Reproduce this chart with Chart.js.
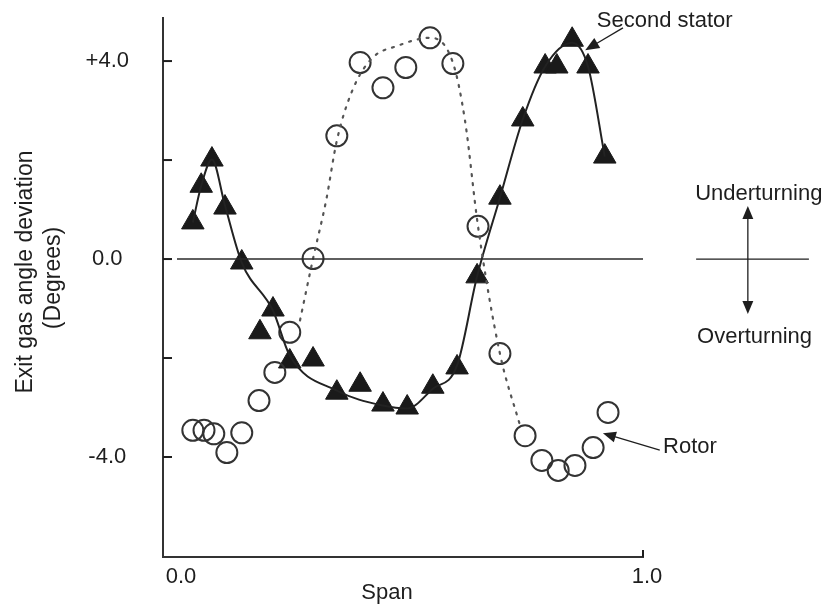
<!DOCTYPE html>
<html>
<head>
<meta charset="utf-8">
<script src="https://cdn.jsdelivr.net/npm/chart.js@4.4.0/dist/chart.umd.min.js"></script>
<style>
  html, body { margin: 0; padding: 0; background: #fff; }
  #wrap { width: 837px; height: 608px; position: relative; }
</style>
</head>
<body>
<div id="wrap"><canvas id="deviation"></canvas></div>
<script>
// second stator (filled triangles)
const statorSpan = [0.034, 0.052, 0.075, 0.103, 0.139, 0.178, 0.206, 0.242, 0.292, 0.343, 0.393, 0.442,
  0.494, 0.549, 0.601, 0.644, 0.693, 0.742, 0.790, 0.815, 0.848, 0.882, 0.918];
const statorDev = [0.74, 1.48, 2.01, 1.04, -0.07, -1.48, -1.02, -2.07, -2.03, -2.70, -2.54, -2.94,
  -3.00, -2.58, -2.19, -0.35, 1.24, 2.82, 3.89, 3.89, 4.43, 3.89, 2.07];

// rotor (open circles)
const rotorSpan = [0.034, 0.058, 0.079, 0.107, 0.139, 0.176, 0.210, 0.242, 0.292, 0.343, 0.393, 0.442,
  0.491, 0.543, 0.592, 0.646, 0.693, 0.747, 0.783, 0.818, 0.854, 0.893, 0.925];
const rotorDev = [-3.46, -3.46, -3.53, -3.91, -3.51, -2.86, -2.29, -1.48, 0.01, 2.49, 3.97, 3.46,
  3.87, 4.47, 3.95, 0.66, -1.91, -3.57, -4.07, -4.27, -4.17, -3.81, -3.10];

// faired curves drawn through the points
const statorFitSpan = [0.034, 0.052, 0.075, 0.103, 0.139, 0.206, 0.242, 0.343, 0.442, 0.494, 0.549, 0.601,
  0.644, 0.693, 0.742, 0.790, 0.848, 0.882, 0.918];
const statorFitDev = [0.74, 1.48, 2.01, 1.08, -0.07, -1.04, -1.95, -2.66, -2.96, -3.02, -2.62, -2.15,
  -0.35, 1.24, 2.82, 3.89, 4.37, 3.89, 2.07];
const rotorFitSpan = [0.264, 0.292, 0.320, 0.343, 0.376, 0.418, 0.474, 0.543, 0.592, 0.618, 0.646, 0.693, 0.736];
const rotorFitDev = [-1.24, 0.01, 1.18, 2.39, 3.40, 4.05, 4.31, 4.47, 3.97, 2.80, 0.66, -1.91, -3.36];

const zeroSpan = [0, 1];
const zeroDev = [0, 0];

const xTicks = [0, 1];
const yTicks = [-4, -2, 0, 2, 4];
const yLabelled = [-4, 0, 4];

const ink = "#1e1e1e";
const face = "'Liberation Sans', Arial, sans-serif";

function pts(xs, ys) {
  return xs.map((x, i) => ({ x: x, y: ys[i] }));
}

function arrow(ctx, x1, y1, x2, y2, head) {
  const a = Math.atan2(y2 - y1, x2 - x1);
  const c = Math.cos(a), s = Math.sin(a);
  ctx.beginPath();
  ctx.moveTo(x1, y1);
  ctx.lineTo(x2 - c * head * 0.8, y2 - s * head * 0.8);
  ctx.stroke();
  ctx.beginPath();
  ctx.moveTo(x2, y2);
  ctx.lineTo(x2 - head * c + head * 0.42 * s, y2 - head * s - head * 0.42 * c);
  ctx.lineTo(x2 - head * c - head * 0.42 * s, y2 - head * s + head * 0.42 * c);
  ctx.closePath();
  ctx.fill();
}

// tick marks inside the axes, axis titles and the callouts
const decorations = {
  id: "decorations",
  afterDraw(chart) {
    const { ctx, chartArea, scales: { x, y } } = chart;
    const X = (v) => x.getPixelForValue(v);
    const Y = (v) => y.getPixelForValue(v);
    ctx.save();
    ctx.strokeStyle = ink;
    ctx.fillStyle = ink;
    ctx.lineWidth = 2;
    yTicks.forEach((v) => {
      ctx.beginPath();
      ctx.moveTo(chartArea.left, Y(v));
      ctx.lineTo(chartArea.left + 9, Y(v));
      ctx.stroke();
    });
    ctx.beginPath();
    ctx.moveTo(X(1), chartArea.bottom);
    ctx.lineTo(X(1), chartArea.bottom - 7);
    ctx.stroke();

    // axis titles
    ctx.font = "23px " + face;
    ctx.textAlign = "center";
    ctx.textBaseline = "alphabetic";
    ctx.save();
    ctx.translate(32, 272);
    ctx.rotate(-Math.PI / 2);
    ctx.fillText("Exit gas angle deviation", 0, 0);
    ctx.restore();
    ctx.save();
    ctx.translate(60, 278);
    ctx.rotate(-Math.PI / 2);
    ctx.fillText("(Degrees)", 0, 0);
    ctx.restore();
    ctx.font = "22px " + face;
    ctx.fillText("Span", 387, 599);

    // callouts
    ctx.textAlign = "left";
    ctx.fillText("Second stator", X(0.901), Y(4.69));
    ctx.fillText("Rotor", X(1.043), Y(-3.92));
    ctx.fillText("Underturning", X(1.112), Y(1.19));
    ctx.fillText("Overturning", X(1.116), Y(-1.70));

    ctx.lineWidth = 1.3;
    arrow(ctx, X(0.957), Y(4.67), X(0.876), Y(4.22), 14);
    arrow(ctx, X(1.036), Y(-3.86), X(0.914), Y(-3.52), 13);

    ctx.beginPath();
    ctx.moveTo(X(1.114), Y(0));
    ctx.lineTo(X(1.356), Y(0));
    ctx.stroke();
    arrow(ctx, X(1.225), Y(0), X(1.225), Y(1.07), 13);
    arrow(ctx, X(1.225), Y(0), X(1.225), Y(-1.11), 13);
    ctx.restore();
  },
};

const chart = new Chart(document.getElementById("deviation"), {
  type: "scatter",
  data: {
    datasets: [
      {
        label: "zero",
        data: pts(zeroSpan, zeroDev),
        showLine: true,
        borderColor: "#2a2a2a",
        borderWidth: 1.6,
        pointRadius: 0,
      },
      {
        label: "Rotor fit",
        data: pts(rotorFitSpan, rotorFitDev),
        showLine: true,
        cubicInterpolationMode: "monotone",
        borderColor: "#555",
        borderWidth: 2.2,
        borderDash: [2, 7],
        borderCapStyle: "round",
        pointRadius: 0,
      },
      {
        label: "Second stator fit",
        data: pts(statorFitSpan, statorFitDev),
        showLine: true,
        cubicInterpolationMode: "monotone",
        borderColor: "#222",
        borderWidth: 2,
        pointRadius: 0,
      },
      {
        label: "Rotor",
        data: pts(rotorSpan, rotorDev),
        pointStyle: "circle",
        pointRadius: 10.5,
        backgroundColor: "rgba(255,255,255,0)",
        borderColor: "#333",
        borderWidth: 2,
      },
      {
        label: "Second stator",
        data: pts(statorSpan, statorDev),
        pointStyle: "triangle",
        pointRadius: 13,
        backgroundColor: "#1a1a1a",
        borderColor: "#1a1a1a",
        borderWidth: 1,
      },
    ],
  },
  options: {
    responsive: true,
    maintainAspectRatio: false,
    animation: false,
    layout: { autoPadding: false, padding: { top: 18, right: 194, left: 0, bottom: 0 } },
    plugins: {
      legend: { display: false },
      tooltip: { enabled: false },
    },
    scales: {
      x: {
        type: "linear",
        min: -0.03,
        max: 1.0,
        afterBuildTicks: (scale) => { scale.ticks = xTicks.map((v) => ({ value: v })); },
        afterFit: (scale) => {
          scale.height = 51;
          scale.paddingLeft = 0;
          scale.paddingRight = 0;
        },
        grid: { display: false, drawTicks: false },
        border: { display: true, color: "#333", width: 2 },
        ticks: {
          color: ink,
          font: { family: face, size: 22 },
          padding: 7,
          labelOffset: 4,
          maxRotation: 0,
          callback: (v) => v.toFixed(1),
        },
      },
      y: {
        type: "linear",
        min: -6.02,
        max: 4.87,
        afterBuildTicks: (scale) => { scale.ticks = yTicks.map((v) => ({ value: v })); },
        afterFit: (scale) => {
          scale.width = 163;
          scale.paddingTop = 0;
          scale.paddingBottom = 0;
        },
        grid: { display: false, drawTicks: false },
        border: { display: true, color: "#333", width: 2 },
        ticks: {
          color: ink,
          font: { family: face, size: 22 },
          padding: 34,
          crossAlign: "center",
          callback: (v) => yLabelled.includes(v) ? (v > 0 ? "+" : "") + v.toFixed(1) : "",
        },
      },
    },
  },
  plugins: [decorations],
});
</script>
</body>
</html>
